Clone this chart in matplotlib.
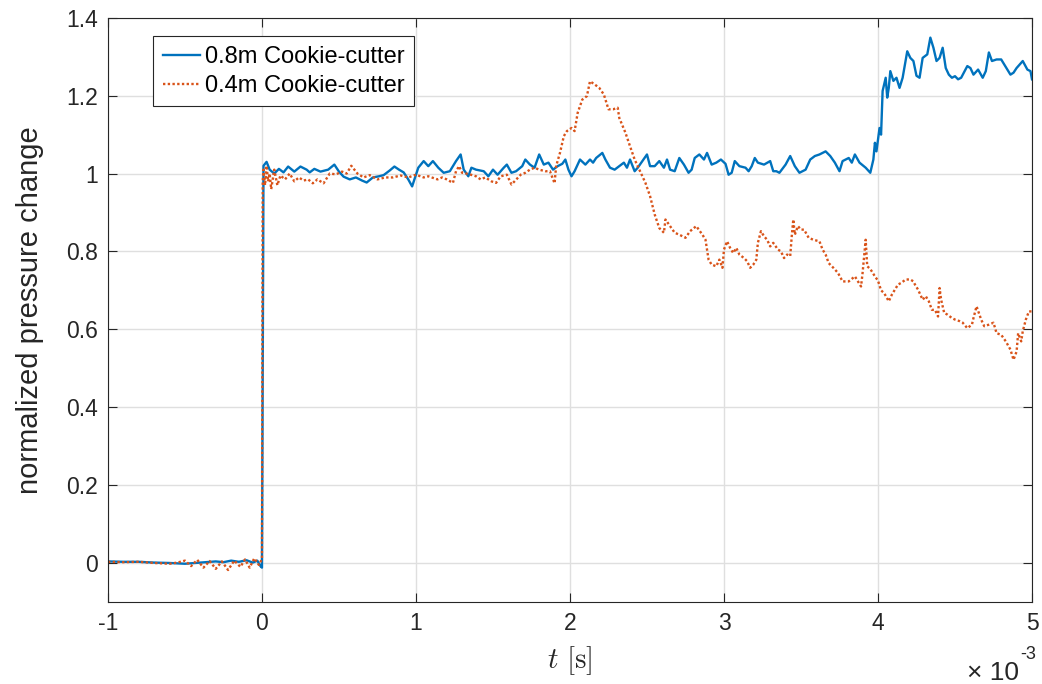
import matplotlib.pyplot as plt
import numpy as np

# ============================================================================
# Data (t in ms, normalized pressure change)
# ============================================================================

t_08 = [-1.0, -0.9, -0.8, -0.7, -0.6, -0.5, -0.4, -0.3, -0.25, -0.2, -0.15, -0.1,
        -0.06, -0.03, -0.01, 0.0,
        0.01, 0.03, 0.05, 0.08, 0.11, 0.14, 0.17, 0.21, 0.25, 0.29, 0.31, 0.34,
        0.38, 0.43, 0.47, 0.50, 0.53, 0.57, 0.61, 0.65, 0.68, 0.72, 0.76, 0.79,
        0.83, 0.86, 0.89, 0.92, 0.95, 0.975,
        1.015, 1.05, 1.08, 1.11, 1.145, 1.18, 1.22, 1.26, 1.29, 1.31, 1.34, 1.36,
        1.39, 1.44, 1.47, 1.50, 1.53, 1.57, 1.59, 1.62, 1.65, 1.69, 1.71, 1.74,
        1.77, 1.80, 1.83, 1.86, 1.89, 1.92, 1.95, 1.97, 1.99,
        2.01, 2.03, 2.065, 2.10, 2.13, 2.15, 2.17, 2.21, 2.23, 2.26, 2.29, 2.32,
        2.35, 2.37, 2.39, 2.42, 2.44, 2.47, 2.50, 2.52, 2.55, 2.58, 2.61, 2.63,
        2.65, 2.68, 2.71, 2.74, 2.77, 2.79, 2.81, 2.84, 2.87, 2.89, 2.92, 2.95,
        2.98, 3.01, 3.03, 3.05, 3.07, 3.10, 3.14, 3.16, 3.18, 3.20, 3.22, 3.26,
        3.30, 3.32, 3.34, 3.36, 3.40, 3.43, 3.46, 3.49, 3.53, 3.56, 3.59, 3.62,
        3.66, 3.69, 3.72, 3.75, 3.77, 3.81, 3.83, 3.85, 3.88, 3.92, 3.95, 3.97,
        3.98, 3.99, 4.01, 4.02, 4.03, 4.05, 4.06, 4.07, 4.08, 4.10, 4.12, 4.14,
        4.16, 4.19, 4.21, 4.23, 4.25, 4.27, 4.29, 4.32, 4.34, 4.36, 4.38, 4.40,
        4.42, 4.44, 4.46, 4.48, 4.50, 4.52, 4.54, 4.58, 4.60, 4.62, 4.65, 4.68,
        4.70, 4.72, 4.74, 4.77, 4.80, 4.82, 4.86, 4.88, 4.90, 4.92, 4.94, 4.97,
        4.99, 5.00]
p_08 = [0.004, 0.003, 0.003, 0.001, 0.0, -0.002, 0.001, 0.004, 0.002, 0.006, 0.003, 0.007,
        0.001, 0.006, -0.008, -0.012,
        1.02, 1.03, 1.01, 1.0, 1.012, 1.003, 1.018, 1.005, 1.018, 1.01, 1.003, 1.012,
        1.005, 1.01, 1.023, 1.005, 0.992, 0.985, 0.99, 0.982, 0.977, 0.99, 0.993, 0.996,
        1.008, 1.018, 1.01, 1.003, 0.985, 0.967,
        1.015, 1.032, 1.019, 1.032, 1.015, 1.002, 1.006, 1.032, 1.049, 1.01, 0.993, 1.015,
        1.01, 1.006, 0.993, 1.01, 0.997, 1.015, 1.023, 1.002, 1.006, 1.019, 1.036, 1.023,
        1.015, 1.049, 1.023, 1.028, 1.01, 1.019, 1.025, 1.036, 1.01,
        0.993, 1.006, 1.036, 1.023, 1.036, 1.028, 1.04, 1.053, 1.036, 1.015, 1.01, 1.019,
        1.028, 1.015, 1.036, 1.006, 1.015, 1.032, 1.049, 1.019, 1.019, 1.032, 1.015, 1.036,
        1.01, 1.006, 1.04, 1.023, 1.002, 1.01, 1.04, 1.049, 1.036, 1.053, 1.023, 1.028,
        1.036, 1.025, 0.997, 1.002, 1.032, 1.019, 1.015, 1.006, 1.019, 1.04, 1.028, 1.023,
        1.032, 1.006, 1.006, 1.002, 1.023, 1.045, 1.019, 1.002, 1.01, 1.036, 1.045, 1.049,
        1.057, 1.045, 1.028, 1.006, 1.032, 1.04, 1.028, 1.049, 1.028, 1.015, 1.002, 1.036,
        1.079, 1.057, 1.117, 1.10, 1.212, 1.246, 1.195, 1.22, 1.263, 1.238, 1.246, 1.22,
        1.246, 1.314, 1.297, 1.289, 1.251, 1.246, 1.297, 1.306, 1.349, 1.323, 1.289, 1.297,
        1.323, 1.271, 1.254, 1.246, 1.25, 1.242, 1.246, 1.276, 1.271, 1.254, 1.267, 1.246,
        1.263, 1.311, 1.289, 1.293, 1.293, 1.28, 1.254, 1.259, 1.271, 1.28, 1.289, 1.267,
        1.263, 1.242]

t_04 = [-1.0, -0.9, -0.8, -0.7, -0.6, -0.55, -0.5, -0.46, -0.42, -0.38, -0.34, -0.3,
        -0.26, -0.22, -0.18, -0.14, -0.11, -0.08, -0.05, -0.02, 0.0,
        0.005, 0.01, 0.02, 0.03, 0.04, 0.05, 0.06, 0.08, 0.10, 0.12, 0.15, 0.18,
        0.21, 0.24, 0.27, 0.30, 0.33, 0.36, 0.40, 0.44, 0.48, 0.52, 0.55, 0.58,
        0.62, 0.66, 0.70, 0.75, 0.80, 0.85, 0.90, 0.95,
        1.0, 1.05, 1.08, 1.14, 1.17, 1.20, 1.24, 1.26, 1.28, 1.30, 1.34, 1.39,
        1.42, 1.45, 1.49, 1.52, 1.55, 1.59, 1.62, 1.64, 1.68, 1.71, 1.74, 1.77,
        1.80, 1.84, 1.87, 1.90, 1.91, 1.935, 1.96, 1.98,
        2.01, 2.03, 2.05, 2.08, 2.11, 2.13, 2.16, 2.19, 2.22, 2.25, 2.28, 2.31,
        2.32, 2.36, 2.39, 2.42, 2.45, 2.49, 2.52, 2.55, 2.58, 2.61, 2.62, 2.65,
        2.68, 2.71, 2.75, 2.78, 2.82, 2.86, 2.88, 2.90, 2.92, 2.95, 2.97, 2.99,
        3.0, 3.02, 3.04, 3.06, 3.08, 3.10, 3.13, 3.15, 3.17, 3.19, 3.21, 3.22,
        3.24, 3.26, 3.28, 3.30, 3.32, 3.35, 3.37, 3.39, 3.41, 3.43, 3.44, 3.45,
        3.46, 3.48, 3.50, 3.52, 3.55, 3.58, 3.62, 3.64, 3.66, 3.68, 3.71, 3.74,
        3.77, 3.81, 3.85, 3.87, 3.89, 3.90, 3.92, 3.93, 3.95, 3.98,
        4.0, 4.02, 4.04, 4.07, 4.09, 4.11, 4.13, 4.15, 4.18, 4.21, 4.23, 4.24,
        4.26, 4.29, 4.31, 4.33, 4.35, 4.37, 4.39, 4.40, 4.41, 4.43, 4.45, 4.48,
        4.50, 4.53, 4.55, 4.58, 4.61, 4.62, 4.64, 4.67, 4.69, 4.72, 4.75, 4.77,
        4.80, 4.83, 4.86, 4.88, 4.90, 4.91, 4.93, 4.94, 4.96, 4.98, 5.0]
p_04 = [0.003, 0.002, 0.003, 0.0, -0.002, 0.001, 0.006, -0.008, 0.008, -0.012, 0.005, -0.015,
        0.004, -0.018, 0.006, -0.01, 0.009, -0.012, 0.012, -0.005, 0.01,
        0.98, 1.01, 0.97, 1.02, 0.98, 1.0, 0.96, 1.01, 0.97, 0.995, 0.985, 1.0,
        0.98, 0.99, 0.982, 0.985, 0.975, 0.985, 0.975, 1.0, 0.998, 1.005, 1.0, 1.02,
        1.0, 0.99, 0.996, 0.985, 0.99, 0.99, 0.995, 0.99,
        0.997, 0.99, 0.993, 0.985, 0.99, 0.985, 0.976, 1.006, 1.019, 1.002, 0.999, 0.993,
        0.985, 0.99, 0.98, 0.976, 0.993, 0.997, 0.972, 0.98, 0.997, 1.002, 1.01, 1.015,
        1.01, 1.006, 1.006, 0.975, 1.019, 1.053, 1.096, 1.109,
        1.117, 1.109, 1.156, 1.19, 1.199, 1.237, 1.229, 1.22, 1.203, 1.165, 1.165, 1.169,
        1.143, 1.105, 1.07, 1.036, 1.01, 0.976, 0.942, 0.895, 0.86, 0.848, 0.882, 0.865,
        0.848, 0.843, 0.835, 0.852, 0.865, 0.843, 0.83, 0.779, 0.766, 0.762, 0.779, 0.758,
        0.805, 0.826, 0.809, 0.796, 0.809, 0.792, 0.783, 0.775, 0.758, 0.766, 0.779, 0.822,
        0.852, 0.839, 0.83, 0.813, 0.822, 0.805, 0.80, 0.783, 0.792, 0.788, 0.839, 0.882,
        0.843, 0.865, 0.856, 0.856, 0.835, 0.83, 0.826, 0.805, 0.792, 0.77, 0.758, 0.745,
        0.723, 0.723, 0.736, 0.723, 0.71, 0.745, 0.83, 0.762, 0.755, 0.736,
        0.725, 0.70, 0.693, 0.672, 0.689, 0.702, 0.715, 0.719, 0.728, 0.728, 0.723, 0.715,
        0.702, 0.676, 0.685, 0.672, 0.65, 0.65, 0.633, 0.706, 0.676, 0.642, 0.638, 0.629,
        0.625, 0.621, 0.617, 0.603, 0.612, 0.629, 0.659, 0.625, 0.608, 0.612, 0.617, 0.59,
        0.586, 0.569, 0.548, 0.522, 0.543, 0.59, 0.569, 0.595, 0.625, 0.646, 0.646]

x_ticks = [-1, 0, 1, 2, 3, 4, 5]
y_ticks = [0, 0.2, 0.4, 0.6, 0.8, 1, 1.2, 1.4]

# ============================================================================
# Plot
# ============================================================================

plt.rcParams["font.family"] = ["Liberation Sans", "DejaVu Sans"]
plt.rcParams["mathtext.fontset"] = "cm"

axis_gray = "#262626"

fig = plt.figure(figsize=(10.42, 6.84), dpi=100)
ax = fig.add_axes([0.1036, 0.120, 0.8868, 0.854])

ax.plot(np.array(t_08) * 1e-3, p_08, color="#0072BD", linewidth=1.7,
        label="0.8m Cookie-cutter")
ax.plot(np.array(t_04) * 1e-3, p_04, color="#D95319", linewidth=1.7,
        linestyle=(0, (1, 1)), label="0.4m Cookie-cutter")

ax.set_xlim(-1e-3, 5e-3)
ax.set_ylim(-0.1, 1.4)
ax.set_xticks(np.array(x_ticks) * 1e-3)
ax.set_xticklabels([str(v) for v in x_ticks])
ax.set_yticks(y_ticks)
ax.set_yticklabels([f"{v:g}" for v in y_ticks])

ax.grid(True, color="#dfdfdf", linewidth=1.0)
ax.set_axisbelow(True)
ax.tick_params(direction="in", length=6.5, width=0.8, colors=axis_gray,
               labelsize=16.5, top=True, right=True, pad=7)
for spine in ax.spines.values():
    spine.set_color(axis_gray)
    spine.set_linewidth(0.8)

ax.set_xlabel(r"$t\ [\mathrm{s}]$", fontsize=21, color=axis_gray, labelpad=7)
ax.set_ylabel("normalized pressure change", fontsize=21, color=axis_gray, labelpad=16)

# exponent of the x axis, written MATLAB style
fig.text(0.978, 0.006, "\u00d7 10", fontsize=19, color=axis_gray, ha="right")
fig.text(0.979, 0.036, "-3", fontsize=13, color=axis_gray)

leg = ax.legend(loc="upper left", bbox_to_anchor=(0.049, 0.968), fontsize=17,
                frameon=True, fancybox=False, framealpha=1, edgecolor=axis_gray,
                handlelength=1.6, borderpad=0.4, labelspacing=0.3,
                handletextpad=0.2, borderaxespad=0)
leg.get_frame().set_linewidth(0.8)

plt.savefig("out.png", dpi=100)
plt.close()
